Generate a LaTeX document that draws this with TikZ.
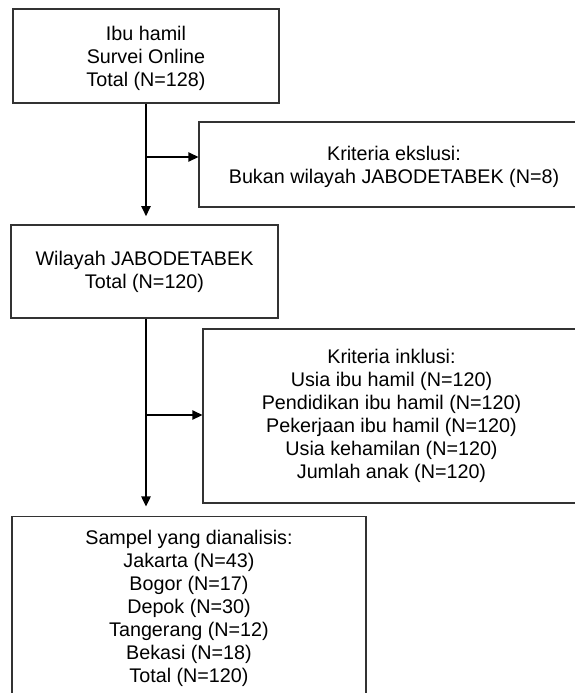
\documentclass[tikz,border=0pt]{standalone}
\usepackage{fontspec}
\setmainfont{Liberation Sans}
\usetikzlibrary{arrows.meta}
\begin{document}
\begin{tikzpicture}[x=0.75pt,y=-0.75pt,
  box/.style={draw=black!80, line width=0.9pt, align=center, inner sep=0pt,
    font=\fontsize{14.8pt}{17.25pt}\selectfont},
  arr/.style={draw=black, line width=1.1pt, -{Triangle[length=7.5pt,width=7pt]}},
  ln/.style={draw=black, line width=1.1pt}]
\clip (0,0) rectangle (575,693);
\fill[white] (0,0) rectangle (575,693);
\node[box, text depth=-0.6pt, minimum width=199.5pt, minimum height=70.5pt] (n1) at (146,56)
  {Ibu hamil\\Survei Online\\Total (N=128)};
\node[box, text depth=0pt, minimum width=292.5pt, minimum height=63.75pt] (ex) at (394,164.5)
  {Kriteria ekslusi:\\Bukan wilayah JABODETABEK (N=8)};
\node[box, minimum width=200.25pt, minimum height=69.75pt] (n2) at (144.5,271.5)
  {Wilayah JABODETABEK\\Total (N=120)};
\node[box, minimum width=282.75pt, minimum height=130.5pt] (inc) at (391.5,416)
  {Kriteria inklusi:\\Usia ibu hamil (N=120)\\Pendidikan ibu hamil (N=120)\\Pekerjaan ibu hamil (N=120)\\Usia kehamilan (N=120)\\Jumlah anak (N=120)};
\node[box, minimum width=265.5pt, minimum height=137pt] (n3) at (189,608)
  {Sampel yang dianalisis:\\Jakarta (N=43)\\Bogor (N=17)\\Depok (N=30)\\Tangerang (N=12)\\Bekasi (N=18)\\Total (N=120)};
\coordinate (b1) at (146,157);
\coordinate (b2) at (146,415);
\draw[arr, shorten >=6.2pt] (n1.south) -- (n1.south |- n2.north);
\draw[arr] (b1) -- (b1 -| ex.west);
\draw[arr, shorten >=7.2pt] (n1.south |- n2.south) -- (n1.south |- n3.north);
\draw[arr] (b2) -- (b2 -| inc.west);
\end{tikzpicture}
\end{document}
